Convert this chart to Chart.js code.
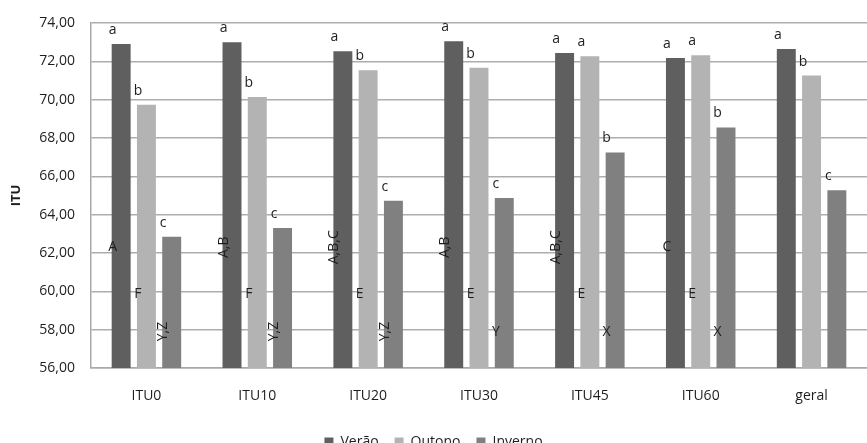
<!DOCTYPE html>
<html>
<head>
<meta charset="utf-8">
<script src="https://cdn.jsdelivr.net/npm/chart.js@4/dist/chart.umd.min.js"></script>
<style>
  html, body { margin: 0; padding: 0; background: #fff; }
  #wrap { width: 867px; height: 443px; position: relative; }
</style>
</head>
<body>
<div id="wrap"><canvas id="ituChart"></canvas></div>
<script>
// Categories and values
const categories = ['ITU0', 'ITU10', 'ITU20', 'ITU30', 'ITU45', 'ITU60', 'geral'];
const verao   = [72.91, 72.99, 72.53, 73.05, 72.44, 72.18, 72.65];
const outono  = [69.74, 70.14, 71.54, 71.66, 72.27, 72.32, 71.26];
const inverno = [62.85, 63.31, 64.73, 64.87, 67.25, 68.55, 65.27];

// Letters above the bars (lowercase) and inside the bars (uppercase)
const veraoTop   = ['a', 'a', 'a', 'a', 'a', 'a', 'a'];
const outonoTop  = ['b', 'b', 'b', 'b', 'a', 'a', 'b'];
const invernoTop = ['c', 'c', 'c', 'c', 'b', 'b', 'c'];
const veraoIn    = ['A', 'A,B', 'A,B,C', 'A,B', 'A,B,C', 'C', ''];
const outonoIn   = ['F', 'F', 'E', 'E', 'E', 'E', ''];
const invernoIn  = ['Y,Z', 'Y,Z', 'Y,Z', 'Y', 'X', 'X', ''];

const yTicks = [56, 58, 60, 62, 64, 66, 68, 70, 72, 74];

const FONT = '"Open Sans", "DejaVu Sans", sans-serif';
const TEXT = '#1e1e1e';

// level (in ITU units) where the uppercase letters sit, one per series
const innerLevel = [62.3, 59.85, 57.9];

const letterPlugin = {
    id: 'letters',
    afterDatasetsDraw(chart) {
        const ctx = chart.ctx;
        const y = chart.scales.y;
        const tops = [veraoTop, outonoTop, invernoTop];
        const inners = [veraoIn, outonoIn, invernoIn];
        ctx.save();
        ctx.fillStyle = TEXT;
        ctx.font = '14px ' + FONT;
        ctx.textAlign = 'center';
        ctx.textBaseline = 'middle';
        chart.data.datasets.forEach((ds, i) => {
            const meta = chart.getDatasetMeta(i);
            meta.data.forEach((bar, j) => {
                const left = bar.x - bar.width / 2;
                // lowercase letter over the bar
                ctx.fillText(tops[i][j], left + 1, bar.y - 14);
                // uppercase letter(s) on the bar
                const txt = inners[i][j];
                if (!txt) return;
                const py = y.getPixelForValue(innerLevel[i]);
                if (txt.length > 1) {
                    ctx.save();
                    ctx.translate(left + 1, py);
                    ctx.rotate(-Math.PI / 2);
                    ctx.fillText(txt, 0, 0);
                    ctx.restore();
                } else {
                    ctx.fillText(txt, left + 1, py);
                }
            });
        });
        ctx.restore();
    }
};

const ctx = document.getElementById('ituChart').getContext('2d');
new Chart(ctx, {
    type: 'bar',
    data: {
        labels: categories,
        datasets: [
            { label: 'Verão',   data: verao,   backgroundColor: '#5f5f5f' },
            { label: 'Outono',  data: outono,  backgroundColor: '#b3b3b3' },
            { label: 'Inverno', data: inverno, backgroundColor: '#808080' }
        ]
    },
    options: {
        responsive: true,
        maintainAspectRatio: false,
        animation: false,
        categoryPercentage: 0.684,
        barPercentage: 0.75,
        layout: { padding: { top: 20, right: 0, bottom: -16, left: 0 } },
        plugins: {
            legend: {
                position: 'bottom',
                labels: {
                    color: TEXT,
                    font: { family: FONT, size: 14 },
                    boxWidth: 9,
                    boxHeight: 9,
                    padding: 16
                }
            },
            tooltip: { enabled: false }
        },
        scales: {
            x: {
                grid: { display: false, drawTicks: false },
                border: { color: '#a9a9a9', width: 1.5 },
                ticks: {
                    color: TEXT,
                    font: { family: FONT, size: 14 },
                    padding: 20
                },
                afterFit(scale) { scale.height = 51; }
            },
            y: {
                min: 56,
                max: 74,
                afterBuildTicks(scale) { scale.ticks = yTicks.map(v => ({ value: v })); },
                grid: { color: '#adadad', lineWidth: 1.5, drawTicks: false },
                border: { color: '#a9a9a9', width: 1.5 },
                ticks: {
                    color: TEXT,
                    font: { family: FONT, size: 14, lineHeight: 1 },
                    padding: 16,
                    callback: v => v.toFixed(2).replace('.', ',')
                },
                title: {
                    display: true,
                    text: 'ITU',
                    color: TEXT,
                    font: { family: FONT, size: 13, weight: 'bold' },
                    padding: { top: 8, bottom: 0 }
                },
                afterFit(scale) { scale.width = 91; }
            }
        }
    },
    plugins: [letterPlugin]
});
</script>
</body>
</html>
